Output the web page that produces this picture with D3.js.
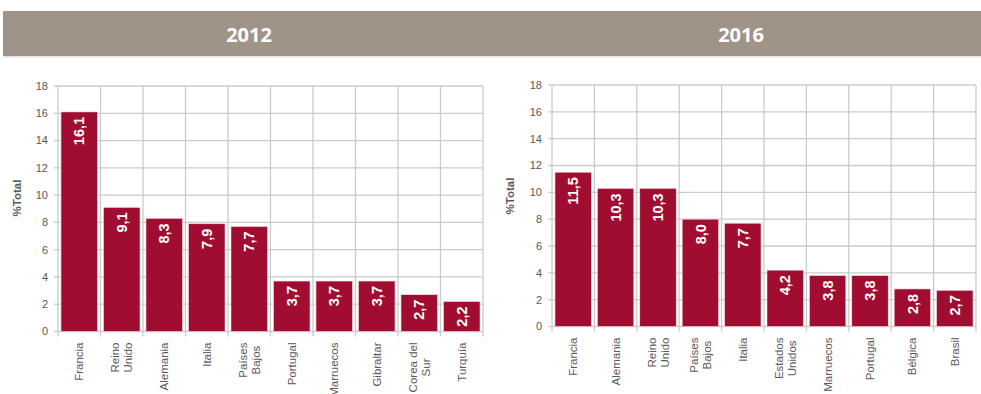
<!DOCTYPE html>
<html><head><meta charset="utf-8">
<script src="https://cdn.jsdelivr.net/npm/d3@7"></script>
<style>
html,body{margin:0;padding:0;background:#fff;}
svg{display:block;}
</style></head>
<body>
<svg id="c" width="981" height="394"></svg>
<script>
const years = ["2012", "2016"];
const cats2012 = ["Francia","Reino\nUnido","Alemania","Italia","Países\nBajos","Portugal","Marruecos","Gibraltar","Corea del\nSur","Turquía"];
const vals2012 = [16.1, 9.1, 8.3, 7.9, 7.7, 3.7, 3.7, 3.7, 2.7, 2.2];
const cats2016 = ["Francia","Alemania","Reino\nUnido","Países\nBajos","Italia","Estados\nUnidos","Marruecos","Portugal","Bélgica","Brasil"];
const vals2016 = [11.5, 10.3, 10.3, 8.0, 7.7, 4.2, 3.8, 3.8, 2.8, 2.7];
const yTicks = [0, 2, 4, 6, 8, 10, 12, 14, 16, 18];
const yLabel = "%Total";

const svg = d3.select("#c");
const FONT = "'Liberation Sans', Arial, sans-serif";
const GRAY = "#595959";
const GRID = "#cbcbcb";
const BAR = "#a10d31";

// header band
svg.append("rect").attr("x", 3).attr("y", 11).attr("width", 978).attr("height", 45).attr("fill", "#a09488");
svg.append("rect").attr("x", 3).attr("y", 56).attr("width", 978).attr("height", 1.5).attr("fill", "#e6e2de");

const panels = [
  {year: years[0], cats: cats2012, vals: vals2012, x0: 58, x1: 483, y0: 331.5, y1: 86, hx: 249, lx: 17, ly: 198},
  {year: years[1], cats: cats2016, vals: vals2016, x0: 552, x1: 976, y0: 326.5, y1: 85, hx: 741, lx: 510, ly: 196}
];

const fmt = v => d3.format(".1f")(v).replace(".", ",");

panels.forEach(p => {
  svg.append("text").attr("x", p.hx).attr("y", 34).attr("text-anchor", "middle")
    .attr("dominant-baseline", "central")
    .attr("font-family", "'Open Sans', sans-serif").attr("font-weight", "bold")
    .attr("font-size", 20).attr("fill", "#fff").text(p.year);

  const x = d3.scaleBand().domain(p.cats).range([p.x0, p.x1]).paddingInner(0.14).paddingOuter(0.07);
  const y = d3.scaleLinear().domain([0, 18]).range([p.y0, p.y1]);
  const g = svg.append("g");

  // horizontal gridlines
  g.selectAll("line.h").data(yTicks).join("line")
    .attr("x1", p.x0).attr("x2", p.x1).attr("y1", d => y(d)).attr("y2", d => y(d))
    .attr("stroke", GRID).attr("stroke-width", 1.3);
  // vertical gridlines at category boundaries
  const step = x.step();
  const bounds = d3.range(p.cats.length + 1).map(i => p.x0 + i * step);
  g.selectAll("line.v").data(bounds).join("line")
    .attr("x1", d => d).attr("x2", d => d).attr("y1", p.y1).attr("y2", p.y0 + 5)
    .attr("stroke", GRID).attr("stroke-width", 1.3);
  // y ticks (left)
  g.selectAll("line.yt").data(yTicks).join("line")
    .attr("x1", p.x0 - 4).attr("x2", p.x0).attr("y1", d => y(d)).attr("y2", d => y(d))
    .attr("stroke", GRID).attr("stroke-width", 1.3);
  // y tick labels
  g.selectAll("text.yl").data(yTicks).join("text")
    .attr("x", p.x0 - 10).attr("y", d => y(d)).attr("dy", "0.35em")
    .attr("text-anchor", "end").attr("font-family", FONT).attr("font-size", 11)
    .attr("fill", GRAY).text(d => d);

  // bars
  g.selectAll("rect.bar").data(p.vals).join("rect")
    .attr("x", (d, i) => x(p.cats[i])).attr("width", x.bandwidth())
    .attr("y", d => y(d)).attr("height", d => y(0) - y(d))
    .attr("fill", BAR).attr("stroke", "#f3e3e6").attr("stroke-width", 0.6);

  // value labels
  g.selectAll("text.val").data(p.vals).join("text")
    .attr("transform", (d, i) => `translate(${x(p.cats[i]) + x.bandwidth() / 2},${y(d) + 5}) rotate(-90)`)
    .attr("text-anchor", "end").attr("dy", "0.36em")
    .attr("font-family", FONT).attr("font-weight", "bold").attr("font-size", 14.5)
    .attr("fill", "#fff").text(d => fmt(d));

  // x labels (rotated, multi-line, centred)
  p.cats.forEach(c => {
    const lines = c.split("\n");
    const cx = x(c) + x.bandwidth() / 2;
    const tmp = [];
    const grp = g.append("g");
    lines.forEach((ln, j) => {
      const off = (j - (lines.length - 1) / 2) * 13;
      const t = grp.append("text")
        .attr("font-family", FONT).attr("font-size", 11.5).attr("fill", GRAY)
        .attr("text-anchor", "middle").attr("dy", "0.35em").text(ln);
      tmp.push({t, off});
    });
    const maxLen = d3.max(tmp, o => o.t.node().getComputedTextLength());
    const top = p.y0 + 11;
    tmp.forEach(o => {
      o.t.attr("transform", `translate(${cx + o.off},${top + maxLen / 2}) rotate(-90)`);
    });
  });

  // y-axis title
  svg.append("text").attr("transform", `translate(${p.lx},${p.ly}) rotate(-90)`)
    .attr("text-anchor", "middle").attr("dy", "0.35em")
    .attr("font-family", FONT).attr("font-weight", "bold").attr("font-size", 11.5)
    .attr("fill", GRAY).text(yLabel);
});
</script>
</body></html>
